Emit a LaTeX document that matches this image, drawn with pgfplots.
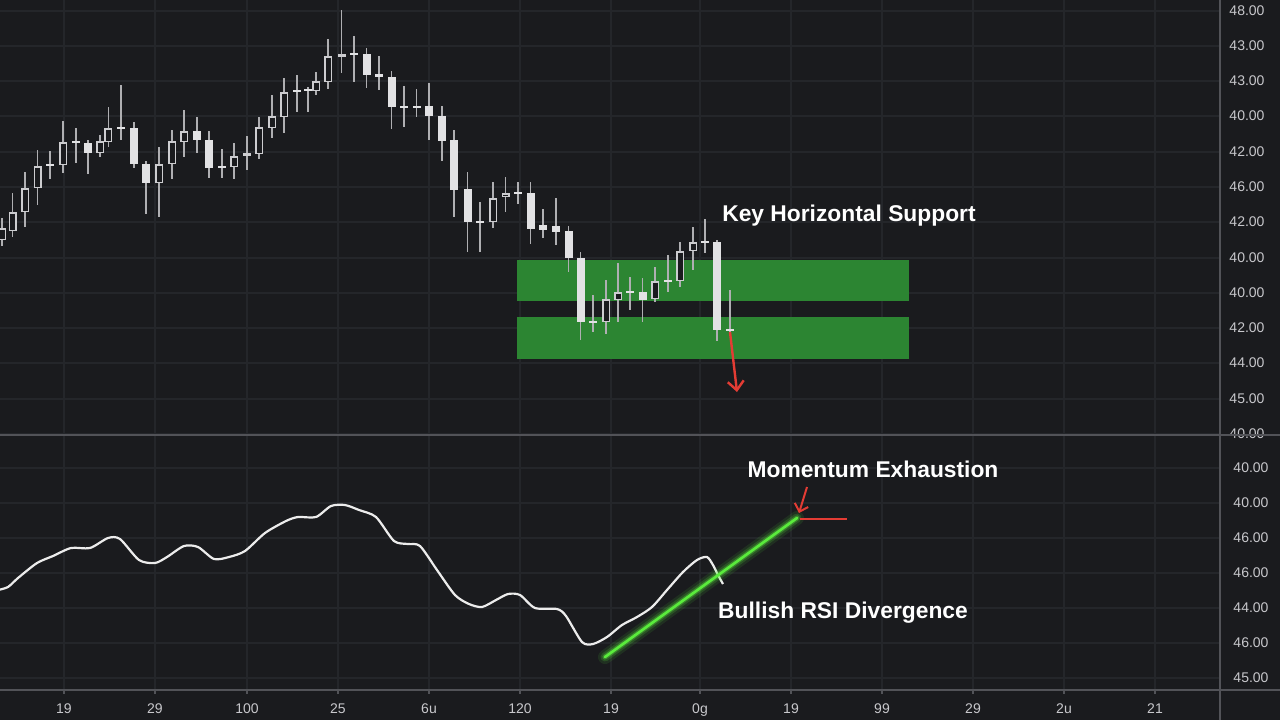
\documentclass[border=0pt]{standalone}
\usepackage{fontspec}
\setmainfont{Liberation Sans}
\usepackage{pgfplots}
\pgfplotsset{compat=1.18}
\usepackage{pgfplotstable}
\usetikzlibrary{arrows.meta}
\definecolor{bg}{RGB}{26,27,30}
\definecolor{gridc}{RGB}{36,38,42}
\definecolor{sep}{RGB}{82,83,88}
\definecolor{lab}{RGB}{200,200,204}
\definecolor{wick}{RGB}{175,175,178}
\definecolor{body}{RGB}{226,226,228}
\definecolor{outl}{RGB}{205,205,208}
\definecolor{zone}{RGB}{44,133,50}
\definecolor{arrowred}{RGB}{228,60,52}
\definecolor{glow}{RGB}{90,235,60}
\definecolor{rsi}{RGB}{236,236,236}

% candles: x, wick top, body top, body bottom, wick bottom (screen units, 0 = top)
\pgfplotstableread{
x hi top bot lo
2 218 228 240 246
12.7 193 212 231 237
25 172 188 212 227
37.7 150 166 188 205
63 121 142 165 173
100 135 141 153 157
108.3 107 128 142 147
159 147 164 183 217
172 130 141 164 179
184 110 131 142 157
234 143 156 167 179
247 136 153 156 170
259 117 127 154 159
272 95 116 128 138
284 78 92 117 133
316 72 81 91 95
328 39 56 82 89
341.7 10 54 57 73
493 182 198 222 228
505.7 177 193 197 212
606 280 299 322 334
618 263 292 300 322
655 267 281 299 302
680 242 251 281 287
693 227 242 251 270
}\hollow

\pgfplotstableread{
x hi top bot lo
50 151 164 166 179
76 128 141 143 163
121 85 127 129 140
222 149 166 168 178
297 75 90 92 112
308 87 89 91 112
354 36 53 55 82
404 86 106 108 127
416.7 89 106 108 117
480 202 221 223 252
518 182 192 194 204
593 295 321 323 332
630 277 291 293 310
668 255 280 282 292
705 219 241 243 253
730 290 329 331 331.5
88 140 143 153 174
134 122 128 164 168
146 161 164 183 214
197 117 131 140 153
209 131 140 168 178
366.7 48 54 75 88
379 56 74 77 90
391.7 71 77 107 129
429 83 106 116 140
442 106 116 141 161
454 130 140 190 217
467.7 172 189 222 252
530.7 182 193 229 244
543 209 225 230 238
556 198 226 232 245
568.7 226 231 258 272
580.7 252 258 322 340
642.7 278 292 300 322
717 240 242 330 341
}\filled

\pgfplotsset{
  panel/.style={
    scale only axis, width=610pt, xmin=0, xmax=1220, y dir=reverse,
    axis line style={draw=none},
    xtick={64,155,247,338,429,520,611,700,791,882,973,1064,1155},
    grid=major, major grid style={draw=gridc, line width=0.55pt},
    yticklabel pos=right, ytick style={draw=none},
    ticklabel style={font=\fontsize{7}{8}\selectfont, text=lab},
    yticklabel style={anchor=west, xshift=1.2pt},
    /pgf/number format/assume math mode=true,
  },
  nomark/.style={only marks, mark=*, mark size=0pt, mark options={draw=none, fill=none}, forget plot},
  wicks/.style={nomark,
    error bars/.cd, y dir=plus, y explicit, error mark=none,
    error bar style={draw=wick, line width=0.75pt, solid}},
  bars/.style={nomark,
    error bars/.cd, y dir=plus, y explicit, error mark=none,
    error bar style={draw=#1, line width=4pt, solid}},
}

\begin{document}
\begin{tikzpicture}
\useasboundingbox (0,0) rectangle (640pt,360pt);
\fill[bg] (0,0) rectangle (640pt,360pt);

\begin{axis}[panel, at={(0pt,142.5pt)}, anchor=south west, height=217.5pt,
  ymin=0, ymax=435, xtick style={draw=none}, major tick length=0pt, xticklabels={,,,,,,,,,,,,},
  ytick={11,46,81,116,152,187,222,258,293,328,363,399,434},
  yticklabels={48.00,43.00,43.00,40.00,42.00,46.00,42.00,40.00,40.00,42.00,44.00,45.00,40.00},
  clip=true]
  % support zones
  \addplot[fill=zone, draw=none, forget plot] coordinates {(517,260) (909,260) (909,301) (517,301)} -- cycle;
  \addplot[fill=zone, draw=none, forget plot] coordinates {(517,317) (909,317) (909,359) (517,359)} -- cycle;
  % wicks
  \addplot[wicks] table[x=x, y=hi, y error plus expr=\thisrow{lo}-\thisrow{hi}] {\hollow};
  \addplot[wicks] table[x=x, y=hi, y error plus expr=\thisrow{lo}-\thisrow{hi}] {\filled};
  % bodies
  \addplot[bars=body] table[x=x, y=top, y error plus expr=\thisrow{bot}-\thisrow{top}] {\filled};
  \addplot[bars=outl] table[x=x, y=top, y error plus expr=\thisrow{bot}-\thisrow{top}] {\hollow};
  \addplot[nomark,
    error bars/.cd, y dir=plus, y explicit, error mark=none,
    error bar style={draw=bg, line width=2.5pt, solid, shorten <=0.75pt, shorten >=0.75pt}]
    table[x=x, y=top, y error plus expr=\thisrow{bot}-\thisrow{top}] {\hollow};
  % breakdown arrow
  \addplot[arrowred, line width=1.2pt, -{Straight Barb[length=4.5pt,width=8pt]}] coordinates {(730,332) (737,392)};
  \node[text=white, font=\bfseries\fontsize{11.4}{13}\selectfont] at (axis cs:849,216) {Key Horizontal Support};
\end{axis}

\begin{axis}[panel, at={(0pt,15pt)}, anchor=south west, height=127.5pt,
  ymin=435, ymax=690,
  xticklabels={19,29,100,25,6u,120,19,0g,19,99,29,2u,21},
  xtick pos=bottom,
  xtick style={draw=sep, line width=0.6pt}, tick align=outside, major tick length=2pt,
  xticklabel style={yshift=-1.5pt},
  ytick={468,503,538,573,608,643,678},
  yticklabels={40.00,40.00,46.00,46.00,44.00,46.00,45.00},
  clip=true]
  \addplot[rsi, line width=1.1pt, smooth, tension=0.45] coordinates {
    (-2,590) (8,587) (18,578) (37,563) (53,556) (71,548) (90,548) (108,538) (120,539)
    (139,560) (155,563) (167,557) (184,546) (198,547) (214,559) (229,557) (245,551)
    (265,533) (286,521) (298,517) (316,517) (331,506) (345,505) (359,510) (376,517)
    (394,541) (408,544) (420,546) (437,570) (455,595) (469,604) (482,607) (496,600)
    (508,594) (520,595) (535,608) (557,609) (566,616) (582,642) (593,644) (607,637)
    (622,625) (637,617) (652,607) (667,590) (683,572) (697,560) (707,557) (713,565)
    (718,575) (723,584)};
  % divergence line with glow
  \addplot[glow, opacity=0.10, line width=7pt, line cap=round] coordinates {(605,657) (797,518)};
  \addplot[glow, opacity=0.18, line width=4.5pt, line cap=round] coordinates {(605,657) (797,518)};
  \addplot[glow, opacity=0.35, line width=2.6pt, line cap=round] coordinates {(605,657) (797,518)};
  \addplot[glow, line width=1.3pt, line cap=round] coordinates {(605,657) (797,518)};
  % exhaustion markers
  \addplot[arrowred, line width=1pt] coordinates {(800,519) (847,519)};
  \addplot[arrowred, line width=1pt, -{Straight Barb[length=3.5pt,width=7pt]}] coordinates {(807,487) (799,513)};
  \node[text=white, font=\bfseries\fontsize{11.4}{13}\selectfont] at (axis cs:873,469) {Momentum Exhaustion};
  \node[text=white, font=\bfseries\fontsize{11.4}{13}\selectfont] at (axis cs:843,613) {Bullish RSI Divergence};
\end{axis}

\draw[sep, line width=0.7pt] (0,142.5pt) -- (640pt,142.5pt);
\draw[sep, line width=0.7pt] (0,15pt) -- (640pt,15pt);
\draw[sep, line width=0.7pt] (610pt,0) -- (610pt,360pt);
\end{tikzpicture}
\end{document}
